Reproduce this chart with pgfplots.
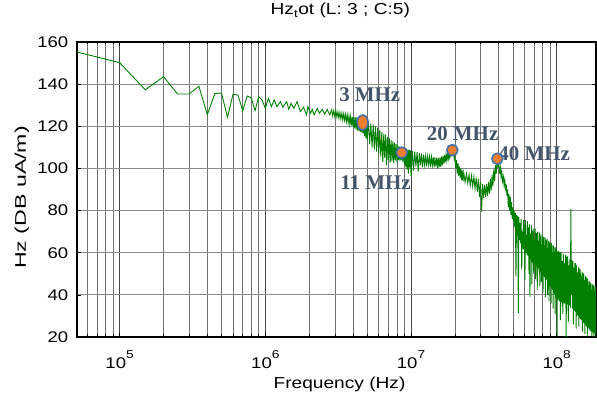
\documentclass[border=0pt]{standalone}
\usepackage{fontspec}
\setmainfont{Liberation Sans}[FakeStretch=1.2]
\newfontfamily\ylabfont{Liberation Sans}[FakeStretch=1.5]
\newfontfamily\notefont{Liberation Serif}
\usepackage{pgfplots}
\usepackage{pgfplotstable}
\pgfplotsset{compat=1.18}

\definecolor{trace}{RGB}{0,128,0}
\definecolor{mkfill}{RGB}{237,125,49}
\definecolor{mkedge}{RGB}{65,113,165}
\definecolor{notecol}{RGB}{68,84,106}

\newcommand{\tenpow}[1]{10\raisebox{10bp}{\fontsize{11.5}{12}\selectfont #1}}

% measured field spectrum: frequency (Hz), level (dB uA/m)
\pgfplotstableread{
f v
5e4 155.4
1e5 150.2
1.5e5 137.3
2e5 143.5
2.5e5 135.3
3e5 135.3
3.5e5 139
4e5 125.5
4.5e5 135.5
5e5 135.8
5.5e5 124.3
6e5 135.2
6.5e5 134.8
7e5 127.3
7.5e5 134.4
8e5 133.5
8.5e5 127.4
9e5 134
9.5e5 132.5
1e6 128.5
1.05e6 133.3
1.1e6 129.3
1.15e6 132.5
1.2e6 129.3
1.27e6 131.7
1.32e6 129
1.4e6 131.7
1.45e6 128
1.5e6 130.9
1.57e6 128.5
1.65e6 131.7
1.74e6 127
1.83e6 129
1.92e6 125.4
1.96e6 129.3
2.04e6 126.2
2.1e6 128
2.16e6 125.4
2.27e6 128.5
2.35e6 126.2
2.46e6 128
2.55e6 125.8
2.66e6 128
2.77e6 125.4
2.85e6 127.8
2.90e6 124.8
2.95e6 127.5
3.00e6 124.5
3.05e6 127.2
3.10e6 124.3
3.15e6 126.9
3.20e6 123.8
3.25e6 126.5
3.30e6 123.6
3.35e6 126.3
3.40e6 123.1
3.45e6 125.9
3.50e6 122.8
3.55e6 125.6
3.60e6 122.2
3.65e6 125.3
3.70e6 121.6
3.75e6 125.0
3.80e6 121.0
3.85e6 124.6
3.90e6 120.4
3.95e6 124.4
4.00e6 119.8
4.05e6 124.3
4.10e6 119.0
4.15e6 124.2
4.20e6 118.4
4.25e6 124.2
4.30e6 118.0
4.35e6 124.1
4.40e6 117.7
4.45e6 124.1
4.50e6 117.4
4.55e6 124.0
4.60e6 117.0
4.65e6 124.0
4.70e6 116.5
4.75e6 123.6
4.80e6 115.5
4.85e6 123.2
4.90e6 114.5
4.95e6 122.8
5.00e6 113.5
5.1e6 122.4
5.2e6 111.5
5.3e6 121.4
5.4e6 110.0
5.5e6 120.8
5.6e6 109.0
5.7e6 120.0
5.8e6 108.0
5.9e6 119.3
6.0e6 107.0
6.1e6 118.2
6.2e6 105.6
6.3e6 117.3
6.4e6 103.0
6.5e6 116.5
6.6e6 105.0
6.7e6 116.0
6.8e6 101.5
6.9e6 115.0
7.0e6 104.0
7.1e6 114.2
7.2e6 102.6
7.3e6 113.4
7.4e6 103.5
7.5e6 112.8
7.6e6 102.5
7.7e6 112.2
7.8e6 103.8
7.9e6 111.5
8.0e6 103.0
8.1e6 111.0
8.2e6 104.0
8.3e6 110.5
8.4e6 103.5
8.5e6 110.0
8.6e6 104.0
8.7e6 109.8
8.8e6 103.0
8.9e6 109.6
9.0e6 102.0
9.1e6 109.4
9.2e6 100.5
9.3e6 109.2
9.4e6 99.5
9.5e6 109.0
9.6e6 97.5
9.7e6 108.8
9.8e6 100.5
9.9e6 108.6
10.0e6 96.5
10.2e6 108.3
10.4e6 99.0
10.6e6 108.0
10.8e6 101.0
11.0e6 107.7
11.2e6 98.5
11.4e6 107.3
11.6e6 101.5
11.8e6 107.0
12.0e6 100.5
12.2e6 106.5
12.4e6 101.5
12.6e6 106.0
12.8e6 101.0
13.0e6 105.8
13.2e6 101.8
13.4e6 105.6
13.6e6 100.8
13.8e6 105.5
14.0e6 101.5
14.2e6 105.3
14.4e6 100.5
14.6e6 105.2
14.8e6 101.0
15.0e6 105.0
15.2e6 100.0
15.4e6 105.0
15.6e6 100.5
15.8e6 105.2
16.0e6 100.8
16.2e6 105.6
16.4e6 101.5
16.6e6 106.0
16.8e6 102.2
17.0e6 106.3
17.2e6 103.0
17.4e6 106.7
17.6e6 103.8
17.8e6 107.0
18.0e6 104.5
18.2e6 107.4
18.4e6 105.2
18.6e6 107.8
18.8e6 106.2
19.0e6 108.3
19.2e6 108.8
19.4e6 107.0
19.6e6 107.5
19.8e6 104.5
20.0e6 105.5
20.25e6 100.0
20.5e6 104.0
20.75e6 97.5
21.0e6 102.5
21.25e6 96.5
21.5e6 101.0
21.75e6 95.5
22.0e6 100.0
22.25e6 94.5
22.5e6 99.0
22.75e6 94.0
23.0e6 98.0
23.5e6 93.5
24.0e6 97.5
24.5e6 93.0
25.0e6 97.0
25.5e6 92.0
26.0e6 96.5
26.5e6 91.5
27.0e6 96.0
27.5e6 90.5
28.0e6 95.5
28.5e6 89.0
29.0e6 95.0
29.5e6 86.5
30.0e6 93.5
30.5e6 79.5
31.0e6 92.5
31.5e6 86.0
32.0e6 92.0
32.5e6 86.5
33.0e6 92.5
33.5e6 87.0
34.0e6 93.5
34.5e6 88.0
35.0e6 95.0
35.5e6 89.5
36.0e6 97.0
36.5e6 91.5
37.0e6 99.5
37.5e6 94.0
38.0e6 101.5
38.5e6 97.5
39.0e6 104.8
39.5e6 101.0
40.0e6 102.5
40.5e6 97.5
41.0e6 100.5
41.5e6 96.0
42.0e6 98.5
42.5e6 94.0
43.0e6 96.0
43.5e6 92.0
44.0e6 94.5
44.5e6 89.5
45.0e6 92.5
45.5e6 87.0
46.0e6 90.0
46.5e6 81.5
47.0e6 88.0
47.5e6 80.0
48.0e6 86.5
48.5e6 78.0
49.0e6 84.0
49.5e6 76.0
50.0e6 81.5
50.5e6 75.0
51.0e6 80.0
51.5e6 72.0
52.0e6 79.0
52.5e6 48.6
53.0e6 78.0
53.5e6 68.0
54.0e6 77.5
54.5e6 31.4
55.0e6 77.0
55.5e6 66.0
56.0e6 74.0
56.5e6 64.5
57.0e6 76.0
57.5e6 52.0
58.0e6 70.0
58.5e6 62.0
59.0e6 75.5
59.5e6 61.5
60.0e6 73.0
60.5e6 47.0
61.0e6 75.5
61.5e6 60.0
62.0e6 68.5
62.5e6 59.0
63.0e6 75.0
63.5e6 58.5
64.0e6 72.0
64.5e6 50.0
65.0e6 73.5
65.5e6 39.0
66.0e6 69.0
66.5e6 57.0
67.0e6 73.0
67.5e6 45.0
68.0e6 70.5
68.5e6 55.5
69.0e6 71.5
69.5e6 50.0
70.0e6 66.5
70.5e6 54.5
71.0e6 71.5
71.5e6 47.5
72.0e6 69.5
72.5e6 53.5
73.0e6 69.3
73.5e6 42.3
74.0e6 70.0
74.5e6 53.0
75.0e6 65.5
75.5e6 52.0
76.0e6 69.5
76.5e6 44.0
77.0e6 68.0
77.5e6 51.0
78.0e6 69.0
78.5e6 46.0
79.0e6 64.0
79.5e6 50.0
80.0e6 68.0
80.5e6 41.0
81.0e6 67.0
81.5e6 49.0
82.0e6 67.5
82.5e6 48.5
83.0e6 63.5
83.5e6 39.0
84.0e6 67.0
84.5e6 47.5
85.0e6 66.0
85.5e6 47.0
86.0e6 66.5
86.5e6 40.0
87.0e6 62.0
87.5e6 46.0
88.0e6 65.5
88.5e6 37.0
89.0e6 64.5
89.5e6 44.5
90.0e6 65.0
90.5e6 44.0
91.0e6 61.5
91.5e6 36.0
92.0e6 64.5
92.5e6 43.0
93.0e6 63.5
93.5e6 42.5
94.0e6 60.0
94.5e6 33.5
95.0e6 63.5
95.5e6 41.0
96.0e6 62.5
96.5e6 40.5
97.0e6 59.5
97.5e6 31.0
98.0e6 62.5
98.5e6 39.0
99.0e6 61.5
99.5e6 38.5
100.0e6 61.0
100.5e6 20.5
101e6 60.5
102e6 37.5
103e6 61.0
104e6 37.0
105e6 60.0
106e6 28.0
107e6 60.5
108e6 36.5
109e6 56.0
110e6 31.0
111e6 59.5
112e6 36.0
113e6 55.0
114e6 36.0
115e6 59.0
116e6 20.0
117e6 58.0
118e6 35.5
119e6 58.5
120e6 27.0
121e6 54.0
122e6 35.0
123e6 57.0
124e6 34.0
125e6 80.7
126e6 40.0
127e6 56.5
128e6 33.5
129e6 56.0
130e6 26.0
131e6 53.0
132e6 32.5
133e6 55.0
134e6 32.0
135e6 55.0
136e6 24.0
137e6 54.0
138e6 30.5
139e6 50.5
140e6 30.0
141e6 53.0
142e6 25.0
143e6 52.5
144e6 29.0
145e6 52.0
146e6 28.5
147e6 48.5
148e6 28.0
149e6 51.0
150e6 22.5
151e6 50.5
152e6 27.0
153e6 50.0
154e6 26.5
155e6 47.0
156e6 21.5
157e6 49.0
158e6 25.5
159e6 48.5
160e6 25.0
161e6 48.0
162e6 20.0
163e6 47.5
164e6 24.5
165e6 44.5
166e6 24.0
167e6 46.5
168e6 23.5
169e6 46.0
170e6 23.0
171e6 45.5
172e6 22.5
173e6 42.5
174e6 20.5
175e6 45.0
176e6 22.5
177e6 45.0
178e6 22.0
179e6 44.5
180e6 20.0
181e6 42.0
182e6 22.0
183e6 44.0
184e6 21.5
185e6 44.0
186e6 20.0
187e6 44.0
188e6 21.5
}\spectrum

% resonance points picked on the trace
\pgfplotstableread{
f v
4.65e6 121.8
}\resonanceA
\pgfplotstableread{
f v
8.63e6 107.5
1.921e7 108.7
3.911e7 104.6
}\resonanceB

\begin{document}
\begin{tikzpicture}
\begin{axis}[
  scale only axis, width=519bp, height=295bp,
  xmode=log, xmin=5.1e4, xmax=1.86e8, ymin=20, ymax=160,
  xtick={1e5,1e6,1e7,1e8},
  xticklabels={\tenpow{5},\tenpow{6},\tenpow{7},\tenpow{8}},
  minor xtick={6e4,7e4,8e4,9e4,2e5,3e5,4e5,5e5,6e5,7e5,8e5,9e5,2e6,3e6,4e6,5e6,6e6,7e6,8e6,9e6,2e7,3e7,4e7,5e7,6e7,7e7,8e7,9e7},
  ytick={20,40,60,80,100,120,140,160},
  xmajorgrids, xminorgrids, ymajorgrids,
  major x grid style={draw=black!72, line width=0.6bp},
  minor x grid style={draw=black!55, line width=0.6bp},
  major y grid style={draw=black!45, line width=0.9bp},
  axis line style={line width=1.4bp},
  tick style={black, line width=0.6bp},
  major tick length=4bp, minor tick length=2.5bp,
  tick align=inside,
  /pgf/number format/assume math mode=true,
  ticklabel style={font=\fontsize{15.5}{17}\selectfont},
  yticklabel style={anchor=east, inner sep=0pt, xshift=-8.5bp},
  xticklabel style={anchor=base, inner sep=0pt, yshift=-31.3bp},
  xlabel={Frequency (Hz)},
  ylabel={\ylabfont Hz (DB uA/m)},
  xlabel style={font=\fontsize{16}{18}\selectfont, at={(axis description cs:0.5058,-0.1739)}, anchor=base, inner sep=0pt},
  ylabel style={font=\fontsize{15.5}{17}\selectfont, at={(axis description cs:-0.0983,0.473)}, anchor=base, inner sep=0pt},
  title={Hz\textsubscript{t}ot (L: 3 ; C:5)},
  title style={font=\fontsize{16}{18}\selectfont, at={(axis description cs:0.5073,1.0722)}, anchor=base, inner sep=0pt},
]
\addplot[trace, line width=0.9bp, mark=none] table[x=f, y=v] {\spectrum};
\addplot[only marks, mark=*, mark size=5.5bp,
  mark options={fill=mkfill, draw=mkedge, line width=1.6bp, yscale=1.35}]
  table[x=f, y=v] {\resonanceA};
\addplot[only marks, mark=*, mark size=5.5bp,
  mark options={fill=mkfill, draw=mkedge, line width=1.6bp}]
  table[x=f, y=v] {\resonanceB};
\begin{scope}[every node/.style={font=\notefont\bfseries\fontsize{21}{23}\selectfont, text=notecol, inner sep=0pt}]
\node at (axis cs:5.21e6,134.85) {3 MHz};
\node at (axis cs:5.71e6,93.32) {11 MHz};
\node at (axis cs:2.257e7,116.58) {20 MHz};
\node at (axis cs:6.99e7,107.08) {40 MHz};
\end{scope}
\coordinate (sw) at (rel axis cs:0,0);
\coordinate (ne) at (rel axis cs:1,1);
\end{axis}
\pgfresetboundingbox
\path[use as bounding box] ([shift={(-77bp,-58bp)}]sw) rectangle ([shift={(1bp,42bp)}]ne);
\end{tikzpicture}
\end{document}
